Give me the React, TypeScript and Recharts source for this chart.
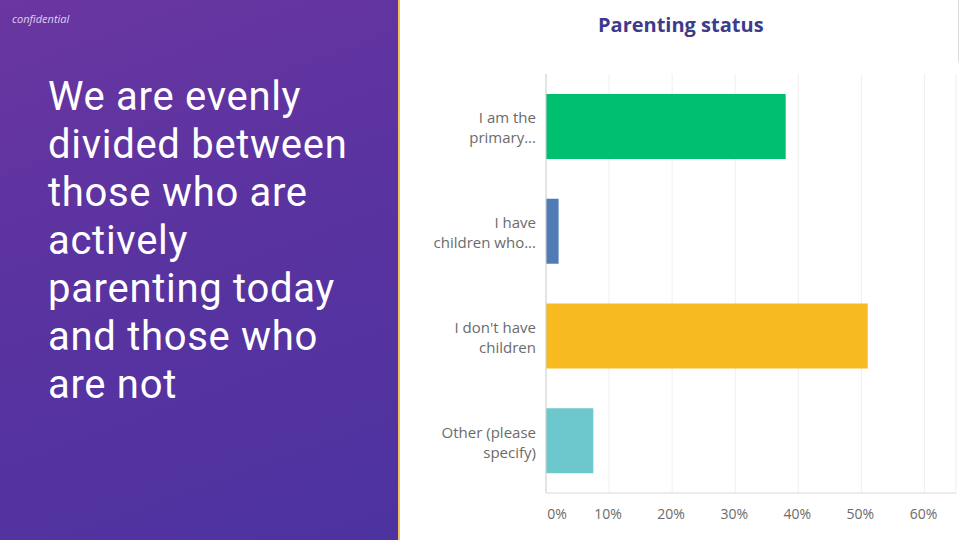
import React from "react";
import { BarChart, Bar, XAxis, YAxis, CartesianGrid, Cell } from "recharts";

const categories = ["I am the primary…", "I have children who…", "I don't have children", "Other (please specify)"];
const tickLines = [
  ["I am the", "primary..."],
  ["I have", "children who..."],
  ["I don't have", "children"],
  ["Other (please", "specify)"],
];
const values = [38, 2, 51, 7.5];
const barColors = ["#00bf6f", "#507cb6", "#f7bb21", "#6cc8cc"];
const xTicks = [0, 10, 20, 30, 40, 50, 60];
const headlineLines = [
  "We are evenly",
  "divided between",
  "those who are",
  "actively",
  "parenting today",
  "and those who",
  "are not",
];

const data = categories.map((c, i) => ({ name: c, value: values[i], idx: i }));

const YTick = (props: any) => {
  const { x, y, payload } = props;
  const idx = categories.indexOf(payload.value);
  const lines = tickLines[idx] || [payload.value];
  return (
    <g>
      {lines.map((l, i) => (
        <text
          key={i}
          x={x - 2}
          y={y - 9 + i * 20}
          textAnchor="end"
          dominantBaseline="central"
          fontSize={15}
          fill="#6b6b6b"
          fontFamily="'Open Sans', sans-serif"
        >
          {l}
        </text>
      ))}
    </g>
  );
};

const XTick = (props: any) => {
  const { x, y, payload } = props;
  const dx = payload.value === 0 ? 11 : -1;
  return (
    <text
      x={x + dx}
      y={y + 12}
      textAnchor="middle"
      dominantBaseline="central"
      fontSize={14}
      fill="#6b6b6b"
      fontFamily="'Open Sans', sans-serif"
    >
      {payload.value + "%"}
    </text>
  );
};

export default function App() {
  return (
    <div
      style={{
        position: "fixed",
        left: 0,
        top: 0,
        width: 960,
        height: 540,
        background: "#ffffff",
        overflow: "hidden",
      }}
    >
      <div
        style={{
          position: "absolute",
          left: 0,
          top: 0,
          width: 398,
          height: 540,
          background: "linear-gradient(160deg, #6a36a0 0%, #5a33a0 45%, #4d33a0 100%)",
        }}
      />
      <div
        style={{
          position: "absolute",
          left: 398,
          top: 0,
          width: 2,
          height: 540,
          background: "#f3c25a",
        }}
      />
      <div
        style={{
          position: "absolute",
          left: 12,
          top: 11,
          fontSize: 11,
          fontStyle: "italic",
          color: "#ddd0f0",
          fontFamily: "'Open Sans', sans-serif",
        }}
      >
        confidential
      </div>
      <div
        style={{
          position: "absolute",
          left: 48,
          top: 73,
          fontSize: 40,
          lineHeight: "48px",
          color: "#ffffff",
          fontFamily: "Roboto, sans-serif",
          fontWeight: 400,
          letterSpacing: 0.7,
        }}
      >
        {headlineLines.map((l, i) => (
          <div key={i} style={{ height: 48, whiteSpace: "nowrap" }}>{l}</div>
        ))}
      </div>
      <div
        style={{
          position: "absolute",
          left: 958,
          top: 0,
          width: 1,
          height: 62,
          background: "#dddddd",
        }}
      />
      <div
        style={{
          position: "absolute",
          left: 598,
          top: 11,
          fontSize: 20,
          fontWeight: 700,
          color: "#3c3b8c",
          fontFamily: "'Open Sans', sans-serif",
          whiteSpace: "nowrap",
        }}
      >
        Parenting status
      </div>
      <div style={{ position: "absolute", left: 400, top: 0 }}>
        <BarChart
          width={560}
          height={540}
          data={data}
          layout="vertical"
          margin={{ top: 74, right: 4, bottom: 17, left: 0 }}
          barCategoryGap="19%"
        >
          <CartesianGrid horizontal={false} vertical={true} stroke="#efefef" />
          <XAxis
            type="number"
            domain={[0, 65]}
            ticks={xTicks}
            height={30}
            tick={<XTick />}
            tickLine={false}
            axisLine={{ stroke: "#d8d8d8" }}
          />
          <YAxis
            type="category"
            dataKey="name"
            width={146}
            tick={<YTick />}
            tickLine={false}
            axisLine={{ stroke: "#d0d0d0" }}
          />
          <Bar dataKey="value" isAnimationActive={false}>
            {data.map((d, i) => (
              <Cell key={i} fill={barColors[i]} />
            ))}
          </Bar>
        </BarChart>
      </div>
    </div>
  );
}
